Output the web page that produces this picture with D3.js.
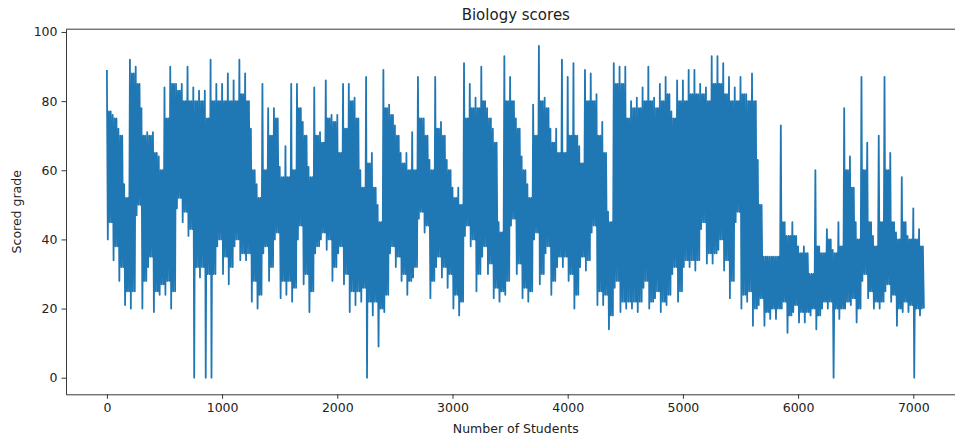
<!DOCTYPE html>
<html>
<head>
<meta charset="utf-8">
<script src="https://cdn.jsdelivr.net/npm/d3@7"></script>
<style>
  body { margin: 0; background: #fff; }
  text { font-family: "DejaVu Sans", sans-serif; fill: #222; }
</style>
</head>
<body>
<div id="chart"></div>
<script>
/* DATA, per block of 50 students:
   highest and lowest score, and the top / bottom of the dense band */
const binSize = 50;
const binHigh = [
  89, 76, 72, 56, 92, 90, 78, 71, 71, 64,
  84, 90, 85, 85, 90, 84, 83, 83, 92, 85,
  85, 88, 86, 92, 88, 72, 56, 85, 78, 78,
  61, 67, 85, 85, 74, 61, 84, 71, 86, 76,
  76, 85, 85, 81, 60, 87, 65, 50, 89, 79,
  73, 65, 65, 71, 87, 75, 63, 87, 74, 63,
  55, 55, 91, 85, 81, 90,
  78, 72, 45, 93, 87, 75, 64, 56, 79, 96,
  81, 72, 72, 92, 87, 91, 67, 89, 88, 82,
  74, 48, 91, 90, 90, 80, 81, 84, 90, 81,
  85, 87, 77, 86, 86, 89,
  89, 85, 84, 93, 93, 91, 87, 84, 87, 82,
  88, 63, 35, 35, 35, 73, 41, 45, 38, 38,
  30, 60, 36, 43, 37, 45, 78, 64, 45, 87,
  68, 41, 70, 87, 65, 42, 58, 41, 49, 43
];
const binLow = [
  40, 34, 28, 21, 20, 47, 20, 32, 19, 24,
  24, 20, 49, 45, 41, 0, 29, 0, 0, 38,
  30, 27, 38, 34, 34, 22, 20, 36, 28, 40,
  23, 24, 22, 40, 27, 19, 36, 40, 37, 28,
  36, 27, 19, 21, 22, 0, 18, 9, 19, 36,
  32, 28, 24, 29, 46, 42, 23, 32, 29, 26,
  20, 18, 41, 38, 25, 35,
  30, 23, 22, 24, 44, 30, 23, 22, 40, 27,
  36, 24, 32, 32, 28, 20, 32, 31, 42, 21,
  21, 14, 26, 19, 20, 20, 19, 26, 20, 23,
  19, 21, 30, 22, 32, 32,
  31, 43, 33, 33, 37, 31, 23, 45, 20, 22,
  15, 21, 15, 17, 17, 20, 13, 19, 16, 16,
  18, 14, 20, 20, 0, 17, 20, 21, 16, 28,
  23, 20, 20, 25, 22, 15, 19, 19, 0, 18
];
const bandTop = [
  77, 75, 70, 52, 88, 85, 70, 70, 65, 60,
  75, 85, 83, 80, 80, 80, 80, 75, 80, 80,
  80, 80, 80, 82, 80, 60, 52, 60, 70, 75,
  58, 58, 60, 78, 70, 58, 70, 68, 75, 74,
  65, 72, 80, 75, 55, 62, 55, 45, 78, 76,
  70, 62, 60, 60, 75, 70, 60, 72, 70, 60,
  52, 50, 75, 78, 78, 80,
  75, 68, 42, 80, 80, 72, 60, 52, 70, 80,
  78, 68, 65, 65, 70, 70, 62, 80, 80, 70,
  65, 45, 85, 85, 75, 78, 78, 80, 80, 78,
  80, 82, 75, 80, 80, 82,
  82, 82, 80, 85, 85, 82, 80, 80, 82, 80,
  80, 50, 35, 35, 35, 45, 41, 41, 36, 36,
  30, 38, 36, 40, 36, 38, 60, 55, 40, 60,
  45, 38, 45, 60, 45, 40, 45, 40, 40, 38
];
const bandBottom = [
  45, 38, 32, 25, 25, 50, 28, 35, 25, 27,
  28, 25, 52, 48, 43, 32, 32, 30, 30, 40,
  35, 32, 40, 36, 36, 28, 24, 38, 32, 42,
  28, 28, 26, 44, 30, 25, 38, 42, 40, 32,
  38, 30, 25, 25, 26, 22, 22, 20, 24, 38,
  35, 30, 28, 32, 48, 44, 28, 35, 32, 30,
  24, 22, 44, 40, 30, 38,
  33, 26, 25, 28, 46, 33, 26, 25, 42, 30,
  38, 28, 35, 35, 30, 24, 35, 34, 44, 25,
  24, 18, 28, 22, 22, 22, 22, 28, 22, 25,
  22, 24, 32, 25, 34, 34,
  34, 45, 36, 36, 40, 34, 28, 48, 24, 25,
  20, 23, 19, 20, 20, 22, 18, 21, 19, 19,
  20, 18, 22, 22, 20, 20, 22, 23, 20, 30,
  25, 22, 22, 27, 24, 20, 22, 21, 20, 20
];
const xTicks = [0, 1000, 2000, 3000, 4000, 5000, 6000, 7000];
const yTicks = [0, 20, 40, 60, 80, 100];
const nStudents = 7100;

/* LAYOUT */
const width = 955, height = 439;
const margin = { left: 66, top: 29.2, bottom: 394.3 };
const plotRight = 965.6;

// inside each block: one stroke to the high, one to the low, then the dense band
const points = [];
binHigh.forEach((hi, i) => {
  const start = i * binSize;
  points.push({ student: start, score: hi });
  points.push({ student: start + 8, score: binLow[i] });
  points.push({ student: start + 17, score: bandTop[i] });
  points.push({ student: start + 25, score: bandBottom[i] });
  points.push({ student: start + 33, score: bandTop[i] });
  points.push({ student: start + 42, score: bandBottom[i] });
});

const pad = (nStudents - 1) * 0.05;
const xScale = d3.scaleLinear()
  .domain([-pad, nStudents - 1 + pad])
  .range([margin.left, plotRight]);

const yScale = d3.scaleLinear()
  .domain([-4.8, 100.8])
  .range([margin.bottom, margin.top]);

const svg = d3.select("#chart")
  .append("svg")
  .attr("width", width)
  .attr("height", height);

svg.append("clipPath").attr("id", "plot-clip")
  .append("rect")
  .attr("x", margin.left)
  .attr("y", margin.top)
  .attr("width", plotRight - margin.left)
  .attr("height", margin.bottom - margin.top);

// the series
const line = d3.line()
  .x(d => xScale(d.student))
  .y(d => yScale(d.score));

svg.append("path")
  .datum(points)
  .attr("clip-path", "url(#plot-clip)")
  .attr("fill", "none")
  .attr("stroke", "#1f77b4")
  .attr("stroke-width", 1.8)
  .attr("stroke-linejoin", "round")
  .attr("d", line);

// axes
const xAxis = d3.axisBottom(xScale)
  .tickValues(xTicks)
  .tickFormat(d3.format("d"))
  .tickSizeInner(4.5)
  .tickSizeOuter(0)
  .tickPadding(4);

const yAxis = d3.axisLeft(yScale)
  .tickValues(yTicks)
  .tickFormat(d3.format("d"))
  .tickSizeInner(4.5)
  .tickSizeOuter(0)
  .tickPadding(4);

const gx = svg.append("g")
  .attr("transform", `translate(0, ${margin.bottom})`)
  .call(xAxis);

const gy = svg.append("g")
  .attr("transform", `translate(${margin.left}, 0)`)
  .call(yAxis);

[gx, gy].forEach(g => {
  g.selectAll("text").style("font-size", "12.5px").attr("fill", "#222");
  g.selectAll("line").attr("stroke", "#222").attr("stroke-width", 0.9);
  g.select(".domain").attr("stroke", "#222").attr("stroke-width", 0.9);
});

// top and right spines
svg.append("line")
  .attr("x1", margin.left).attr("x2", plotRight)
  .attr("y1", margin.top).attr("y2", margin.top)
  .attr("stroke", "#222").attr("stroke-width", 0.9);
svg.append("line")
  .attr("x1", plotRight).attr("x2", plotRight)
  .attr("y1", margin.top).attr("y2", margin.bottom)
  .attr("stroke", "#222").attr("stroke-width", 0.9);

// titles
svg.append("text")
  .attr("x", (margin.left + plotRight) / 2)
  .attr("y", 20)
  .attr("text-anchor", "middle")
  .style("font-size", "15px")
  .text("Biology scores");

svg.append("text")
  .attr("x", (margin.left + plotRight) / 2)
  .attr("y", 433)
  .attr("text-anchor", "middle")
  .style("font-size", "12.5px")
  .text("Number of Students");

svg.append("text")
  .attr("transform", `translate(21, ${(margin.top + margin.bottom) / 2}) rotate(-90)`)
  .attr("text-anchor", "middle")
  .style("font-size", "12.5px")
  .text("Scored grade");
</script>
</body>
</html>
